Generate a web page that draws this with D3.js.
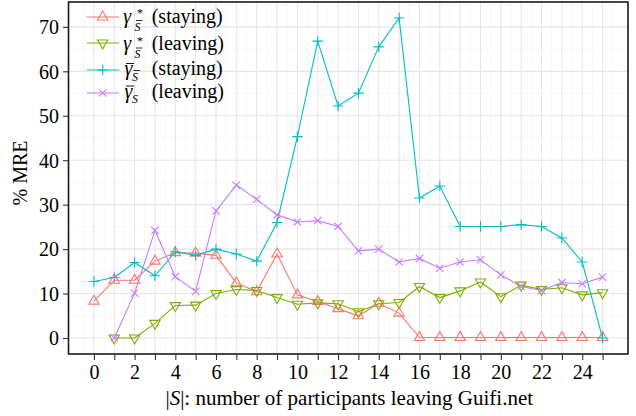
<!DOCTYPE html>
<html><head><meta charset="utf-8">
<script src="https://cdn.jsdelivr.net/npm/d3@7"></script>
<style>
body{margin:0;background:#fff}
text{font-family:"Liberation Serif","Times New Roman",Times,serif;fill:#000}
</style>
</head><body>
<svg id="chart" width="636" height="416"></svg>
<script>
// |S| = number of participants leaving
const sizes = d3.range(0, 26);
// gamma* for the staying group, |S| = 0..25
const gammaStarStaying = [8.3, 13.0, 13.0, 17.3, 19.2, 19.1, 18.6, 12.4, 10.4, 18.9, 9.7, 8.2, 6.6, 5.0, 7.8, 5.6,
  0.1, 0.1, 0.1, 0.1, 0.1, 0.1, 0.1, 0.1, 0.1, 0.1];
// gamma* for the leaving group, |S| = 1..25
const gammaStarLeaving = [0, 0, 3.3, 7.3, 7.4, 10.0, 10.9, 10.7, 9.1, 7.6, 7.9, 7.7, 5.9, 7.7, 8.0, 11.6, 9.1,
  10.6, 12.6, 9.3, 11.9, 10.9, 11.3, 9.7, 10.2];
// gamma-bar for the staying group, |S| = 0..25
const gammaBarStaying = [12.7, 13.6, 17.0, 14.0, 19.4, 18.6, 20.0, 18.9, 17.3, 26.0, 45.3, 66.8, 52.2, 55.1, 65.5,
  72.0, 31.5, 34.2, 25.1, 25.1, 25.1, 25.5, 25.1, 22.5, 17.1, 0];
// gamma-bar for the leaving group, |S| = 1..25
const gammaBarLeaving = [0, 10.1, 24.2, 13.8, 10.5, 28.6, 34.4, 31.2, 27.7, 26.1, 26.4, 25.1, 19.6, 20.0, 17.1,
  17.9, 15.7, 17.1, 17.6, 14.2, 11.6, 10.7, 12.5, 12.2, 13.7];

const xTicks = sizes;
const xTickLabels = d3.range(0, 26, 2);
const yTicks = [0, 10, 20, 30, 40, 50, 60, 70];
const seriesColors = ["#F8766D", "#7CAE00", "#00BFC4", "#C77CFF"];
const seriesShapes = ["triUp", "triDown", "plus", "cross"];

const series = [
  {values: gammaStarStaying, first: 0, color: seriesColors[0], shape: seriesShapes[0]},
  {values: gammaStarLeaving, first: 1, color: seriesColors[1], shape: seriesShapes[1]},
  {values: gammaBarStaying, first: 0, color: seriesColors[2], shape: seriesShapes[2]},
  {values: gammaBarLeaving, first: 1, color: seriesColors[3], shape: seriesShapes[3]}
].map(s => ({...s, points: s.values.map((v, i) => ({x: sizes[i + s.first], y: v}))}));

const svg = d3.select("#chart");
const panel = {left: 68.5, right: 628, top: 2, bottom: 354};
const x = d3.scaleLinear().domain([-1.25, 26.25]).range([panel.left, panel.right]);
const y = d3.scaleLinear().domain([-3.6, 75.6]).range([panel.bottom, panel.top]);

// grid: minor then major
const g = svg.append("g");
const xMinor = d3.range(-0.5, 26, 1);
const yMinor = [5, 15, 25, 35, 45, 55, 65, 75];
g.selectAll(".vminor").data(xMinor).join("line")
  .attr("x1", d => x(d)).attr("x2", d => x(d)).attr("y1", panel.top).attr("y2", panel.bottom)
  .attr("stroke", "#f3f3f3").attr("stroke-width", 0.6);
g.selectAll(".hminor").data(yMinor).join("line")
  .attr("y1", d => y(d)).attr("y2", d => y(d)).attr("x1", panel.left).attr("x2", panel.right)
  .attr("stroke", "#f3f3f3").attr("stroke-width", 0.6);
g.selectAll(".vmajor").data(xTicks).join("line")
  .attr("x1", d => x(d)).attr("x2", d => x(d)).attr("y1", panel.top).attr("y2", panel.bottom)
  .attr("stroke", "#e6e6e6").attr("stroke-width", 1.1);
g.selectAll(".hmajor").data(yTicks).join("line")
  .attr("y1", d => y(d)).attr("y2", d => y(d)).attr("x1", panel.left).attr("x2", panel.right)
  .attr("stroke", "#e6e6e6").attr("stroke-width", 1.1);

// marker path generator
function markerPath(shape, cx, cy) {
  if (shape === "triUp" || shape === "triDown") {
    const p = d3.symbol(d3.symbolTriangle, 46)();
    return {d: p, t: `translate(${cx},${cy})` + (shape === "triDown" ? " rotate(180)" : "")};
  }
  const r = shape === "plus" ? 5.2 : 3.7;
  if (shape === "plus") return {d: `M${-r},0H${r}M0,${-r}V${r}`, t: `translate(${cx},${cy})`};
  return {d: `M${-r},${-r}L${r},${r}M${-r},${r}L${r},${-r}`, t: `translate(${cx},${cy})`};
}

// lines
const line = d3.line().x(d => x(d.x)).y(d => y(d.y));
const plot = svg.append("g");
series.forEach(s => {
  plot.append("path").datum(s.points).attr("d", line)
    .attr("fill", "none").attr("stroke", s.color).attr("stroke-width", 1.1);
});
// points
series.forEach(s => {
  plot.append("g").selectAll("path").data(s.points).join("path")
    .each(function(d) {
      const m = markerPath(s.shape, x(d.x), y(d.y));
      d3.select(this).attr("d", m.d).attr("transform", m.t);
    })
    .attr("fill", "none").attr("stroke", s.color).attr("stroke-width", 1.1);
});

// panel border
svg.append("rect").attr("x", panel.left).attr("y", panel.top)
  .attr("width", panel.right - panel.left).attr("height", panel.bottom - panel.top)
  .attr("fill", "none").attr("stroke", "#1a1a1a").attr("stroke-width", 1.6);

// axes
const xAxis = svg.append("g").attr("transform", `translate(0,${panel.bottom})`)
  .call(d3.axisBottom(x).tickValues(xTicks).tickSizeInner(6).tickSizeOuter(0).tickPadding(4)
    .tickFormat(d => xTickLabels.includes(d) ? d : ""));
const yAxis = svg.append("g").attr("transform", `translate(${panel.left},0)`)
  .call(d3.axisLeft(y).tickValues(yTicks).tickSizeInner(5.5).tickSizeOuter(0).tickPadding(4));
[xAxis, yAxis].forEach(a => {
  a.select(".domain").remove();
  a.selectAll(".tick line").attr("stroke", "#333").attr("stroke-width", 1.1);
  a.selectAll(".tick text").attr("font-family", "Liberation Serif").attr("font-size", 20).attr("fill", "#000");
});
xAxis.selectAll(".tick text").attr("dy", "0.74em");
yAxis.selectAll(".tick text").attr("dy", "0.34em");

// axis titles
const xt = svg.append("text").attr("x", (panel.left + panel.right) / 2 + 1).attr("y", 405)
  .attr("text-anchor", "middle").attr("font-size", 21);
xt.append("tspan").text("|");
xt.append("tspan").attr("font-style", "italic").text("S");
xt.append("tspan").text("|: number of participants leaving Guifi.net");

svg.append("text").attr("transform", "translate(27,173) rotate(-90)")
  .attr("text-anchor", "middle").attr("font-size", 20).text("% MRE");

// legend: key line + marker, then the math label (accent bars drawn as thin rules)
const legendRows = [
  {y: 17, base: 23, bar: false, sup: "*", supDy: -6, subBar: true, sub: "S", subDy: 7.5, label: "(staying)"},
  {y: 43, base: 50, bar: false, sup: "*", supDy: -5.5, subBar: true, sub: "S", subDy: 8, label: "(leaving)"},
  {y: 70, base: 75, bar: true, sup: null, subBar: true, sub: "S", subDy: 5.5, label: "(staying)"},
  {y: 93, base: 97.5, bar: true, sup: null, subBar: false, sub: "S", subDy: 5.5, label: "(leaving)"}
];
const leg = svg.append("g");
legendRows.forEach((r, i) => {
  const s = series[i];
  leg.append("line").attr("x1", 86.7).attr("x2", 119.3).attr("y1", r.y).attr("y2", r.y)
    .attr("stroke", s.color).attr("stroke-width", 1.1);
  const m = markerPath(s.shape, 102.7, r.y);
  leg.append("path").attr("d", m.d).attr("transform", m.t)
    .attr("fill", "none").attr("stroke", s.color).attr("stroke-width", 1.1);

  const gx = r.bar ? 124.5 : 123.3;
  const t = leg.append("text").attr("x", gx).attr("y", r.base).attr("font-size", 20);
  t.append("tspan").attr("x", gx).attr("y", r.base).attr("font-style", "italic").text("\u03B3");
  if (r.bar) leg.append("line").attr("x1", gx + 1.5).attr("x2", gx + 9.5)
    .attr("y1", r.base - 11.5).attr("y2", r.base - 11.5).attr("stroke", "#000").attr("stroke-width", 0.9);
  if (r.sup) t.append("tspan").attr("x", 137).attr("y", r.base + r.supDy).attr("font-size", 12).text(r.sup);
  const sx = r.bar ? 132 : 134.5;
  const sy = r.base + r.subDy;
  t.append("tspan").attr("x", sx).attr("y", sy).attr("font-size", 12).attr("font-style", "italic").text(r.sub);
  if (r.subBar) leg.append("line").attr("x1", sx + 1.5).attr("x2", sx + 8)
    .attr("y1", sy - 10).attr("y2", sy - 10).attr("stroke", "#000").attr("stroke-width", 0.8);
  t.append("tspan").attr("x", 151.7).attr("y", r.base).text(r.label);
});
</script>
</body></html>
